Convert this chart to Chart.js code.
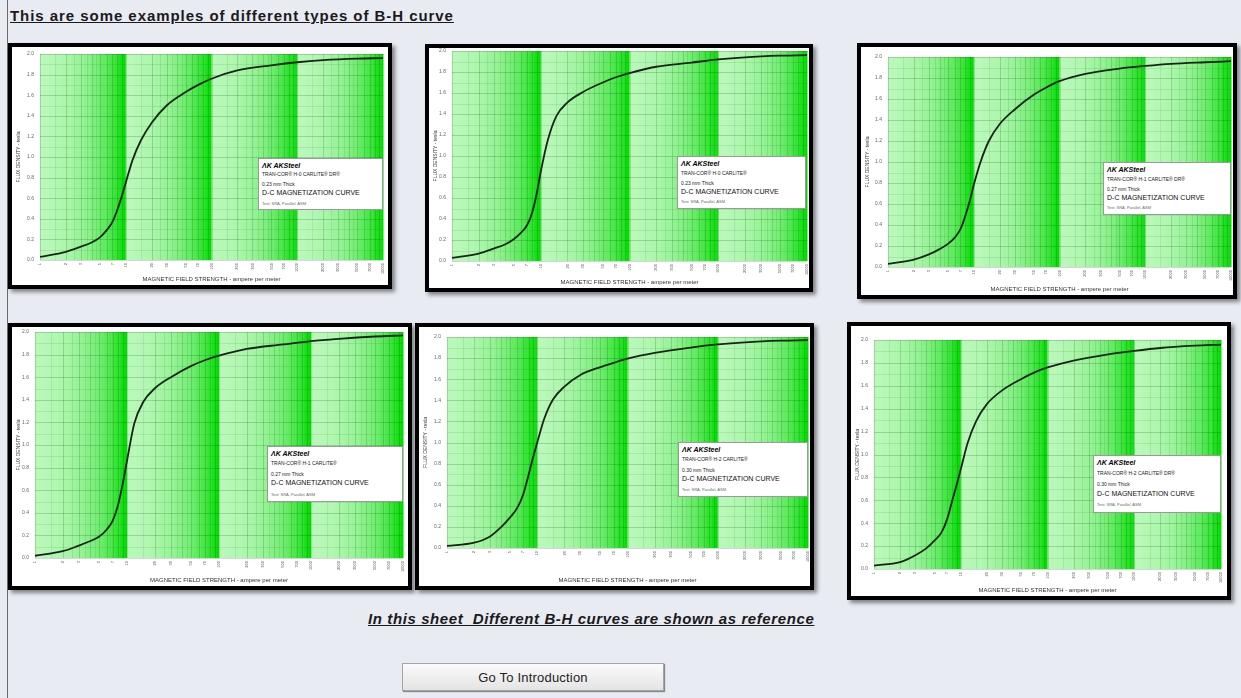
<!DOCTYPE html>
<html>
<head>
<meta charset="utf-8">
<title>B-H curves</title>
<script src="https://cdn.jsdelivr.net/npm/chart.js@4.4.1/dist/chart.umd.min.js"></script>
<style>
  html, body { margin: 0; padding: 0; }
  body {
    width: 1241px; height: 698px; position: relative; overflow: hidden;
    background: #e9ebf3; font-family: "Liberation Sans", Arial, sans-serif;
  }
  .edge { position: absolute; left: 7px; top: 0; width: 1px; height: 698px; background: #6a6a6a; }
  .head { position: absolute; left: 10px; top: 7px; font-size: 15px; font-weight: bold;
    letter-spacing: 0.95px; text-decoration: underline; color: #1a1a1a; white-space: nowrap; }
  .foot { position: absolute; left: 368px; top: 610px; font-size: 15px; font-weight: bold;
    letter-spacing: 0.6px; font-style: italic; text-decoration: underline; color: #1a1a1a; white-space: pre; }
  .btn { position: absolute; left: 402px; top: 663px; width: 260px; height: 26px;
    border: 1px solid #a4a4a4; background: linear-gradient(#fbfbfb, #e4e4e4);
    box-shadow: 1px 1px 1px #8a8a8a; font-size: 13px; letter-spacing: 0.2px; color: #222;
    text-align: center; line-height: 27px; }
  .frame { position: absolute; border: 4px solid #000; background: #fff;
    box-shadow: 3px 3px 4px rgba(0,0,0,0.45); }
  .frame canvas { display: block; }
  .box { position: absolute; background: #fff; border: 1px solid #9a9a9a; color: #222;
    white-space: nowrap; overflow: hidden; }
  .box div { position: absolute; left: 3px; }
  .box .logo { font-size: 7px; font-weight: bold; font-style: italic; color: #000; }
  .box .grade { font-size: 5px; }
  .box .thick { font-size: 5px; }
  .box .kind { font-size: 7px; color: #111; }
  .box .test { font-size: 4px; color: #666; }
</style>
</head>
<body>
<div class="edge"></div>
<div class="head">This are some examples of different types of B-H curve</div>
<div class="foot">In this sheet  Different B-H curves are shown as reference</div>
<div class="btn">Go To Introduction</div>

<script>
// magnetic field strength (A/m), log axis
var hValues = [1, 2, 3, 4, 5, 6, 7, 8, 9, 10, 12, 15, 20, 30, 50, 70, 100, 200, 500, 1000, 2000, 5000, 10000];

// flux density (T)
var bH0DR = [0.03, 0.08, 0.13, 0.17, 0.22, 0.29, 0.37, 0.49, 0.62, 0.75, 0.97, 1.16, 1.33, 1.50, 1.63, 1.70, 1.76, 1.84, 1.89, 1.92, 1.94, 1.955, 1.96];
var bH0   = [0.03, 0.07, 0.12, 0.16, 0.21, 0.27, 0.34, 0.46, 0.64, 0.85, 1.15, 1.38, 1.51, 1.61, 1.70, 1.75, 1.79, 1.85, 1.89, 1.92, 1.94, 1.955, 1.96];
var bH1DR = [0.03, 0.07, 0.12, 0.17, 0.22, 0.28, 0.36, 0.49, 0.63, 0.78, 1.00, 1.20, 1.36, 1.50, 1.64, 1.71, 1.77, 1.84, 1.89, 1.915, 1.935, 1.95, 1.96];
var bH1   = [0.02, 0.06, 0.11, 0.15, 0.19, 0.25, 0.33, 0.47, 0.66, 0.86, 1.19, 1.38, 1.50, 1.60, 1.70, 1.75, 1.79, 1.85, 1.89, 1.92, 1.94, 1.96, 1.97];
var bH2   = [0.02, 0.05, 0.11, 0.20, 0.29, 0.38, 0.51, 0.69, 0.86, 1.00, 1.23, 1.41, 1.53, 1.64, 1.715, 1.755, 1.795, 1.85, 1.90, 1.93, 1.95, 1.965, 1.97];
var bH2DR = [0.03, 0.06, 0.12, 0.18, 0.25, 0.32, 0.44, 0.60, 0.74, 0.87, 1.10, 1.29, 1.44, 1.56, 1.66, 1.715, 1.76, 1.82, 1.875, 1.905, 1.93, 1.95, 1.96];

var hTickLabels = [1, 2, 3, 5, 7, 10, 20, 30, 50, 70, 100, 200, 300, 500, 700, 1000, 2000, 3000, 5000, 7000, 10000];
var bTickLabels = [0, 0.2, 0.4, 0.6, 0.8, 1.0, 1.2, 1.4, 1.6, 1.8, 2.0];

var gradeNames = ['TRAN-COR® H-0 CARLITE® DR®', 'TRAN-COR® H-0 CARLITE®', 'TRAN-COR® H-1 CARLITE® DR®',
                  'TRAN-COR® H-1 CARLITE®', 'TRAN-COR® H-2 CARLITE®', 'TRAN-COR® H-2 CARLITE® DR®'];
var thickNames = ['0.23 mm Thick', '0.23 mm Thick', '0.27 mm Thick', '0.27 mm Thick', '0.30 mm Thick', '0.30 mm Thick'];
var curves = [bH0DR, bH0, bH1DR, bH1, bH2, bH2DR];

// page placement: frame [l,t,r,b], plot area [l,t,r,b], note box [l,t,r,b]
var frames = [[8, 43, 392, 289], [425, 44, 813, 292], [857, 43, 1237, 299],
              [8, 323, 412, 590], [415, 323, 814, 590], [847, 322, 1231, 600]];
var plots  = [[40, 54, 383, 260], [452, 51, 807, 261], [888, 57, 1231, 267],
              [35, 332, 403, 558], [447, 337, 808, 548], [874, 340, 1221, 569]];
var boxes  = [[258, 158, 383, 210], [677, 156, 806, 209], [1103, 162, 1231, 215],
              [267, 446, 403, 502], [678, 442, 808, 497], [1093, 455, 1221, 513]];

var light = [185, 248, 185], dark = [0, 220, 0];
function mix(t) {
    var c = light.map(function (v, i) { return Math.round(v + (dark[i] - v) * t); });
    return 'rgb(' + c.join(',') + ')';
}

// green decade bands and the log grid behind the curve
var paperPlugin = {
    id: 'paper',
    beforeDatasetsDraw: function (chart) {
        var ctx = chart.ctx, a = chart.chartArea;
        var xs = chart.scales.x, ys = chart.scales.y;
        ctx.save();
        for (var d = 0; d < 4; d++) {
            var base = Math.pow(10, d);
            for (var k = 1; k < 10; k++) {
                var sub = 4;
                for (var s = 0; s < sub; s++) {
                    var t = ((k - 1) * sub + s) / (9 * sub - 1);
                    var p0 = xs.getPixelForValue((k + s / sub) * base);
                    var p1 = xs.getPixelForValue((k + (s + 1) / sub) * base);
                    ctx.fillStyle = mix(Math.pow(t, 1.1));
                    ctx.fillRect(p0, a.top, p1 - p0 + 0.5, a.bottom - a.top);
                }
            }
        }
        ctx.lineWidth = 0.6;
        for (d = 0; d < 4; d++) {
            base = Math.pow(10, d);
            for (k = 1; k < 10; k++) {
                var steps = k < 5 ? [0, 0.5] : [0];
                steps.forEach(function (h) {
                    var x = Math.round(xs.getPixelForValue((k + h) * base)) + 0.5;
                    ctx.strokeStyle = h ? 'rgba(0,90,0,0.16)' : 'rgba(0,80,0,0.30)';
                    ctx.beginPath(); ctx.moveTo(x, a.top); ctx.lineTo(x, a.bottom); ctx.stroke();
                });
            }
        }
        for (var i = 0; i <= 20; i++) {
            var y = Math.round(ys.getPixelForValue(i / 10)) + 0.5;
            ctx.strokeStyle = i % 2 ? 'rgba(0,80,0,0.16)' : 'rgba(0,70,0,0.32)';
            ctx.beginPath(); ctx.moveTo(a.left, y); ctx.lineTo(a.right, y); ctx.stroke();
        }
        ctx.restore();
    }
};

curves.forEach(function (b, n) {
    var f = frames[n], p = plots[n], bx = boxes[n];
    var cw = f[2] - f[0] - 8, ch = f[3] - f[1] - 8;
    var frame = document.createElement('div');
    frame.className = 'frame';
    frame.style.left = f[0] + 'px'; frame.style.top = f[1] + 'px';
    frame.style.width = cw + 'px'; frame.style.height = ch + 'px';
    var canvas = document.createElement('canvas');
    canvas.width = cw; canvas.height = ch;
    frame.appendChild(canvas);
    document.body.appendChild(frame);

    var pl = p[0] - f[0] - 4, pt = p[1] - f[1] - 4, pr = p[2] - f[0] - 4, pb = p[3] - f[1] - 4;

    new Chart(canvas, {
        type: 'line',
        data: {
            datasets: [{
                data: hValues.map(function (h, i) { return { x: h, y: b[i] }; }),
                borderColor: '#172417',
                borderWidth: 1.8,
                pointRadius: 0,
                fill: false,
                cubicInterpolationMode: 'monotone'
            }]
        },
        options: {
            responsive: false,
            animation: false,
            devicePixelRatio: 1,
            layout: { padding: { top: pt, right: cw - pr, left: 0, bottom: 0 } },
            plugins: { legend: { display: false }, tooltip: { enabled: false } },
            scales: {
                x: {
                    type: 'logarithmic', min: 1, max: 10000,
                    afterBuildTicks: function (s) { s.ticks = hTickLabels.map(function (v) { return { value: v }; }); },
                    afterFit: function (s) { s.height = ch - pb; s.paddingLeft = 0; s.paddingRight = 0; },
                    grid: { display: false, drawTicks: false },
                    border: { display: false },
                    ticks: { autoSkip: false, minRotation: 90, maxRotation: 90, padding: 3,
                             font: { size: 4, family: 'Liberation Sans' }, color: '#555',
                             callback: function (v) { return String(v); } },
                    title: { display: true, text: 'MAGNETIC FIELD STRENGTH - ampere per meter',
                             font: { size: 6, family: 'Liberation Sans' }, color: '#333',
                             padding: { top: 0, bottom: 2 } }
                },
                y: {
                    min: 0, max: 2,
                    afterBuildTicks: function (s) { s.ticks = bTickLabels.map(function (v) { return { value: v }; }); },
                    afterFit: function (s) { s.width = pl; s.paddingTop = 0; s.paddingBottom = 0; },
                    grid: { display: false, drawTicks: false },
                    border: { display: false },
                    ticks: { padding: 6, font: { size: 5, family: 'Liberation Sans' }, color: '#666',
                             callback: function (v) { return v.toFixed(1); } },
                    title: { display: true, text: 'FLUX DENSITY - tesla',
                             font: { size: 5, family: 'Liberation Sans' }, color: '#333',
                             padding: { top: 4, bottom: 2 } }
                }
            }
        },
        plugins: [paperPlugin]
    });

    var note = document.createElement('div');
    note.className = 'box';
    note.style.left = bx[0] + 'px'; note.style.top = bx[1] + 'px';
    note.style.width = (bx[2] - bx[0] - 2) + 'px'; note.style.height = (bx[3] - bx[1] - 2) + 'px';
    var h = bx[3] - bx[1];
    note.innerHTML =
        '<div class="logo" style="top:' + Math.round(h * 0.06) + 'px">&#x039B;K AKSteel</div>' +
        '<div class="grade" style="top:' + Math.round(h * 0.24) + 'px">' + gradeNames[n] + '</div>' +
        '<div class="thick" style="top:' + Math.round(h * 0.43) + 'px">' + thickNames[n] + '</div>' +
        '<div class="kind" style="top:' + Math.round(h * 0.58) + 'px">D-C MAGNETIZATION CURVE</div>' +
        '<div class="test" style="top:' + Math.round(h * 0.80) + 'px">Test: SRA, Parallel, ASM</div>';
    document.body.appendChild(note);
});
</script>
</body>
</html>
